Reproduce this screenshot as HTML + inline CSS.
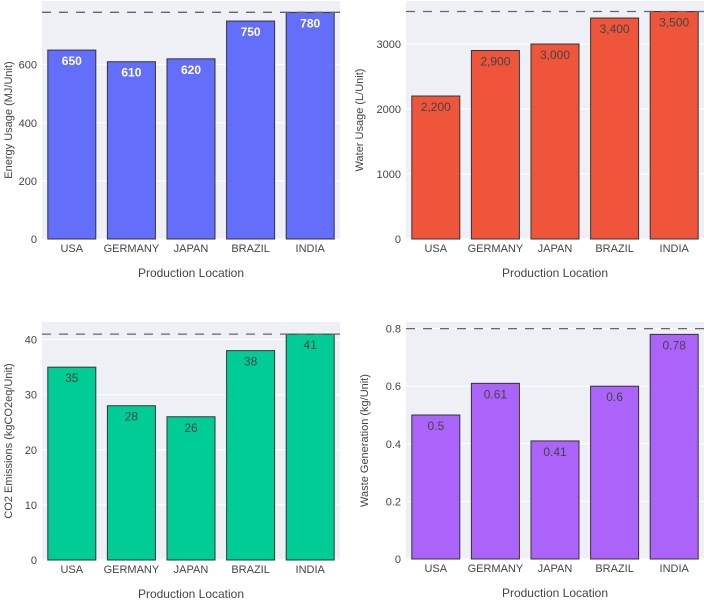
<!DOCTYPE html>
<html><head><meta charset="utf-8">
<style>
body{margin:0;background:#fff;}
svg{display:block;font-family:"Liberation Sans",sans-serif;}
</style></head>
<body>
<svg id="chart" width="704" height="600" viewBox="0 0 704 600"></svg>
<script>
const categories = ["USA","GERMANY","JAPAN","BRAZIL","INDIA"];
const energyValues = [650,610,620,750,780];
const waterValues = [2200,2900,3000,3400,3500];
const co2Values = [35,28,26,38,41];
const wasteValues = [0.5,0.61,0.41,0.6,0.78];
const energyTicks = [0,200,400,600];
const waterTicks = [0,1000,2000,3000];
const co2Ticks = [0,10,20,30,40];
const wasteTicks = [0,0.2,0.4,0.6,0.8];
const energyLabels = ["650","610","620","750","780"];
const waterLabels = ["2,200","2,900","3,000","3,400","3,500"];
const co2Labels = ["35","28","26","38","41"];
const wasteLabels = ["0.5","0.61","0.41","0.6","0.78"];
const energyRef = 780, waterRef = 3500, co2Ref = 41, wasteRef = 0.8;

const NS = "http://www.w3.org/2000/svg";
const svg = document.getElementById("chart");
function mk(tag, attrs, parent){
  const e = document.createElementNS(NS, tag);
  for (const k in attrs) e.setAttribute(k, attrs[k]);
  (parent||svg).appendChild(e);
  return e;
}
function panel(o){
  const g = mk("g",{});
  
  
  const x0=o.x0, x1=o.x1, yTop=o.yTop, yBot=o.yBot;
  const y = v => yBot - (v/o.max)*(yBot-yTop);
  const bw = (x1-x0)/categories.length;
  const bg = mk("rect",{x:x0,y:yTop,width:x1-x0,height:yBot-yTop,fill:"#e5ecf6","fill-opacity":"0.6"},g);
  
  
  mk("rect",{x:x0,y:yTop,width:x1-x0,height:yBot-yTop,fill:"#eef0f5"},g);
  o.ticks.forEach(t=>{
    const gl = mk("line",{x1:x0,x2:x1,y1:y(t),y2:y(t),stroke:"#fff","stroke-width":1},g);
    
    
    const tl = mk("text",{x:x0-5,y:y(t)+4,"text-anchor":"end","font-size":"11",fill:"#444"},g);
    tl.textContent = String(t);
    
    
  });
  o.values.forEach((v,i)=>{
    const cx = x0 + bw*(i+0.5);
    const r = mk("rect",{x:cx-24,y:y(v),width:48,height:yBot-y(v),fill:o.color,stroke:"#333","stroke-width":1},g);
    
    
    const lt = mk("text",{x:cx,y:y(v)+15,"text-anchor":"middle","font-size":"12",fill:o.labelColor,"font-weight":o.bold?"bold":"normal"},g);
    lt.textContent = o.labels[i];
    
    
    const xt = mk("text",{x:cx,y:yBot+13,"text-anchor":"middle","font-size":"11",fill:"#444"},g);
    xt.textContent = categories[i];
    
    
  });
  const dl = mk("line",{x1:x0,x2:x1,y1:y(o.ref),y2:y(o.ref),stroke:"#666","stroke-width":1.3,"stroke-dasharray":"9,8"},g);
  
  
  const xtl = mk("text",{x:(x0+x1)/2,y:yBot+38,"text-anchor":"middle","font-size":"12",fill:"#444"},g);
  xtl.textContent = "Production Location";
  
  
  const ty = (yTop+yBot)/2;
  const ytl = mk("text",{x:o.titleX,y:ty,"text-anchor":"middle","font-size":"11",fill:"#444",transform:`rotate(-90 ${o.titleX} ${ty})`},g);
  ytl.textContent = o.title;
  
  
}
panel({name:"energy-panel",x0:42,x1:340,yTop:1,yBot:239,max:819,values:energyValues,labels:energyLabels,ticks:energyTicks,ref:energyRef,color:"#636efa",labelColor:"#fff",bold:true,title:"Energy Usage (MJ/Unit)",titleX:12});
panel({name:"water-panel",x0:406,x1:704,yTop:1,yBot:239,max:3662,values:waterValues,labels:waterLabels,ticks:waterTicks,ref:waterRef,color:"#ef553b",labelColor:"#444",title:"Water Usage (L/Unit)",titleX:363});
panel({name:"co2-panel",x0:42,x1:340,yTop:322,yBot:560,max:43.2,values:co2Values,labels:co2Labels,ticks:co2Ticks,ref:co2Ref,color:"#00cc96",labelColor:"#444",title:"CO2 Emissions (kgCO2eq/Unit)",titleX:12});
panel({name:"waste-panel",x0:406,x1:704,yTop:322,yBot:559,max:0.823,values:wasteValues,labels:wasteLabels,ticks:wasteTicks,ref:wasteRef,color:"#ab63fa",labelColor:"#444",title:"Waste Generation (kg/Unit)",titleX:368});
</script>
</body></html>
